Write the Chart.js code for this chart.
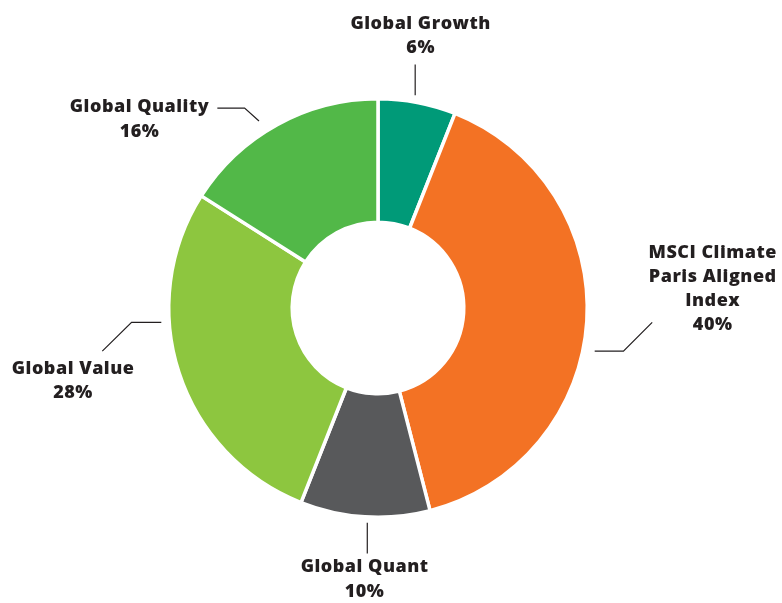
<!DOCTYPE html>
<html>
<head>
<meta charset="utf-8">
<script src="https://cdn.jsdelivr.net/npm/chart.js@4"></script>
<style>
html,body{margin:0;padding:0;background:#fff;}
#wrap{width:782px;height:603px;position:relative;}
</style>
</head>
<body>
<div id="wrap"><canvas id="c" width="782" height="603"></canvas></div>
<script>
const categories = ['Global Growth', 'MSCI Climate Paris Aligned Index', 'Global Quant', 'Global Value', 'Global Quality'];
const values = [6, 40, 10, 28, 16];
const labelLines = [['Global Growth'], ['MSCI Climate', 'Paris Aligned', 'Index'], ['Global Quant'], ['Global Value'], ['Global Quality']];
const colors = ['#009A78', '#F37224', '#58595B', '#8DC63F', '#52B848'];

// label layout relative to the doughnut centre, in px for a 211px outer radius
const labelLayout = [
  {text: [43, -287], leader: [[37.5, -245.5], [37.5, -214.5]]},
  {text: [337.5, -56], leader: [[218.5, 43.5], [247.5, 43.5], [276.5, 14.5]]},
  {text: [-13.5, 261.5], leader: [[-10.8, 216.5], [-10.8, 247.5]]},
  {text: [-307.5, 61.5], leader: [[-218.5, 14.5], [-248.5, 14.5], [-278, 43.5]]},
  {text: [-240.5, -202.5], leader: [[-162, -201.5], [-134.5, -201.5], [-120, -188.5]]}
];

const labelPlugin = {
  id: 'leaderLabels',
  afterDraw(chart) {
    const ctx = chart.ctx;
    const meta = chart.getDatasetMeta(0);
    const arc0 = meta.data[0];
    const cx = arc0.x, cy = arc0.y;
    const s = arc0.outerRadius / 211;
    ctx.save();
    ctx.strokeStyle = '#231F20';
    ctx.lineWidth = 1.2;
    ctx.fillStyle = '#231F20';
    ctx.font = '800 18px "Open Sans"';
    if ('letterSpacing' in ctx) ctx.letterSpacing = '0.5px';
    ctx.textAlign = 'center';
    ctx.textBaseline = 'middle';
    labelLayout.forEach((lay, i) => {
      ctx.beginPath();
      lay.leader.forEach((p, j) => {
        const x = cx + p[0] * s, y = cy + p[1] * s;
        if (j === 0) ctx.moveTo(x, y); else ctx.lineTo(x, y);
      });
      ctx.stroke();
      const lines = labelLines[i].concat([values[i] + '%']);
      lines.forEach((t, k) => {
        ctx.fillText(t, cx + lay.text[0] * s, cy + lay.text[1] * s + k * 24.2);
      });
    });
    ctx.restore();
  }
};

new Chart(document.getElementById('c'), {
  type: 'doughnut',
  data: {
    labels: categories,
    datasets: [{
      data: values,
      backgroundColor: colors,
      borderColor: '#FFFFFF',
      borderWidth: 3.5,
      hoverOffset: 0
    }]
  },
  options: {
    responsive: false,
    animation: false,
    cutout: '41%',
    layout: {padding: {left: 167, right: 193, top: 97, bottom: 84}},
    plugins: {legend: {display: false}, tooltip: {enabled: false}}
  },
  plugins: [labelPlugin]
});
</script>
</body>
</html>
